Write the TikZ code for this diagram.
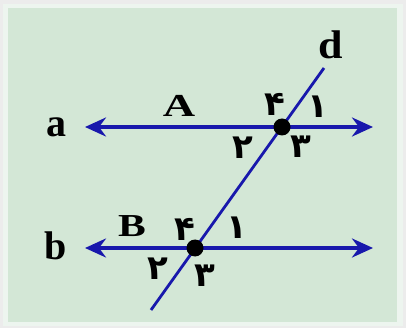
\documentclass[tikz,border=0pt]{standalone}
\usepackage{fontspec}
\setmainfont{Liberation Serif}
\newfontfamily\faDigits[Script=Arabic]{DejaVu Sans}
\usetikzlibrary{arrows.meta,calc}
\definecolor{bgGray}{RGB}{236,236,236}
\definecolor{panelGreen}{RGB}{211,231,214}
\definecolor{lineBlue}{RGB}{24,24,172}
\newcommand{\widetext}[2]{\scalebox{#1}[1]{#2}}

\begin{document}
\begin{tikzpicture}[x=1pt,y=-1pt,
    parline/.style={lineBlue, line width=3.8pt, {Stealth[length=21pt,width=19pt,inset=7pt]}-{Stealth[length=21pt,width=19pt,inset=7pt]}},
    crossline/.style={lineBlue, line width=2.8pt},
    dotpt/.style={circle, fill=black, inner sep=0pt, minimum size=17pt},
    linename/.style={font=\fontsize{40}{40}\selectfont\bfseries},
    ptname/.style={font=\fontsize{32}{32}\selectfont\bfseries},
    anglenum/.style={font=\fontsize{34}{34}\selectfont\faDigits\bfseries}
]
    \useasboundingbox (0,0) rectangle (406,328);
    % Background and panel
    \fill[bgGray] (0,0) rectangle (406,328);
    \fill[white!60!panelGreen] (3,4) rectangle (403,326);
    \fill[panelGreen] (8,8) rectangle (397,322);

    % Points on the lines
    \coordinate (aL) at (85,127);
    \coordinate (aR) at (373,127);
    \coordinate (bL) at (85,248);
    \coordinate (bR) at (373,248);
    \coordinate (dLow) at (151,310);
    \coordinate (dTop) at (324,68);

    % Parallel lines and the transversal
    \draw[parline] (aL) -- (aR);
    \draw[parline] (bL) -- (bR);
    \draw[crossline] (dLow) -- (dTop);

    % Intersection points
    \node[dotpt] (A) at (282,127) {};
    \node[dotpt] (B) at (195,248) {};

    % Line and point names
    \node[linename] (la) at (56,127) {a};
    \node[linename] (lb) at (56,246) {b};
    \node[linename] (ld) at (331,45) {\widetext{1.1}{d}};
    \node[ptname] (pA) at (179,106) {\widetext{1.4}{A}};
    \node[ptname] (pB) at (132,226) {\widetext{1.3}{B}};

    % Angle numbers at A
    \node[anglenum] (a4) at (275,104) {۴};
    \node[anglenum] (a1) at (318,107) {۱};
    \node[anglenum] (a2) at (243,148) {۲};
    \node[anglenum] (a3) at (301,147) {۳};

    % Angle numbers at B
    \node[anglenum] (b4) at (185,229) {۴};
    \node[anglenum] (b1) at (237,228) {۱};
    \node[anglenum] (b2) at (158,269) {۲};
    \node[anglenum] (b3) at (205,276) {۳};
\end{tikzpicture}
\end{document}
